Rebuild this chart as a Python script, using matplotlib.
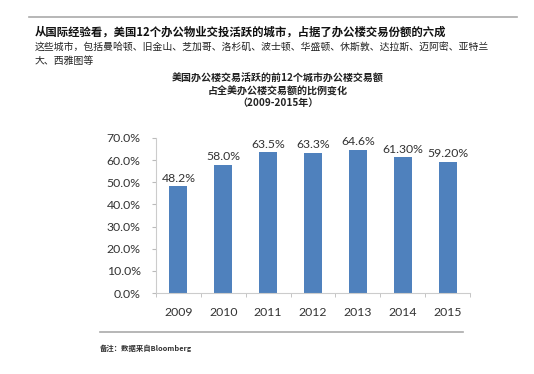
import matplotlib.pyplot as plt
from matplotlib.lines import Line2D
import numpy as np

plt.rcParams['font.family'] = ['Noto Sans CJK SC', 'DejaVu Sans']

years = ['2009', '2010', '2011', '2012', '2013', '2014', '2015']
shares = [48.2, 58.0, 63.5, 63.3, 64.6, 61.3, 59.2]
bar_labels = ['48.2%', '58.0%', '63.5%', '63.3%', '64.6%', '61.30%', '59.20%']
yticks = [0, 10, 20, 30, 40, 50, 60, 70]

headline = '从国际经验看，美国12个办公物业交投活跃的城市，占据了办公楼交易份额的六成'
sub1 = '这些城市，包括曼哈顿、旧金山、芝加哥、洛杉矶、波士顿、华盛顿、休斯敦、达拉斯、迈阿密、亚特兰'
sub2 = '大、西雅图等'
chart_title = '美国办公楼交易活跃的前12个城市办公楼交易额\n占全美办公楼交易额的比例变化\n（2009-2015年）'
note = '备注：数据来自Bloomberg'

W, H = 534, 374
fig = plt.figure(figsize=(W / 100, H / 100), dpi=100)
fig.patch.set_facecolor('white')

# axes placed in pixel coords
left, right, top, bottom = 156, 470, 138, 293
ax = fig.add_axes([left / W, 1 - bottom / H, (right - left) / W, (bottom - top) / H])

num_font = dict(family='Lato', fontsize=8.8, color='#333333')

x = np.arange(len(years))
ax.bar(x, shares, width=0.4, color='#4f81bd', zorder=2)
for xi, v, lab in zip(x, shares, bar_labels):
    ax.text(xi, v + 1.2, lab, ha='center', va='bottom', **num_font)

ax.set_xlim(-0.5, len(years) - 0.5)
ax.set_ylim(0, 70)
ax.set_yticks(yticks)
ax.set_yticklabels([f'{t:.1f}%' for t in yticks], **num_font)
ax.set_xticks(x)
ax.set_xticklabels(years, **num_font)
ax.tick_params(axis='x', length=0, pad=10)
ax.tick_params(axis='y', length=3, color='#bbbbbb', pad=8)
# category boundary ticks
ax.set_xticks(np.arange(len(years) + 1) - 0.5, minor=True)
ax.tick_params(axis='x', which='minor', length=3, color='#bbbbbb')
for s in ['top', 'right']:
    ax.spines[s].set_visible(False)
for s in ['left', 'bottom']:
    ax.spines[s].set_color('#cccccc')
    ax.spines[s].set_linewidth(0.8)

# header, lines and notes
fig.add_artist(Line2D([29 / W, 517 / W], [1 - 17 / H, 1 - 17 / H], color='#aaaaaa', lw=1.2))
fig.add_artist(Line2D([100 / W, 463 / W], [1 - 332 / H, 1 - 332 / H], color='#aaaaaa', lw=1.2))
fig.text(35 / W, 1 - 32 / H, headline, fontsize=8.2, fontweight='bold', va='center', ha='left', color='#111111')
fig.text(35 / W, 1 - 47 / H, sub1, fontsize=7.1, va='center', ha='left', color='#222222')
fig.text(35 / W, 1 - 61 / H, sub2, fontsize=7.1, va='center', ha='left', color='#222222')
fig.text(278 / W, 1 - 91 / H, chart_title, fontsize=7.2, fontweight='bold', va='center', ha='center',
         linespacing=1.25, color='#222222')
fig.text(100 / W, 1 - 348 / H, note, fontsize=5.3, fontweight='bold', va='center', ha='left', color='#333333')

fig.savefig('out.png', dpi=100)
